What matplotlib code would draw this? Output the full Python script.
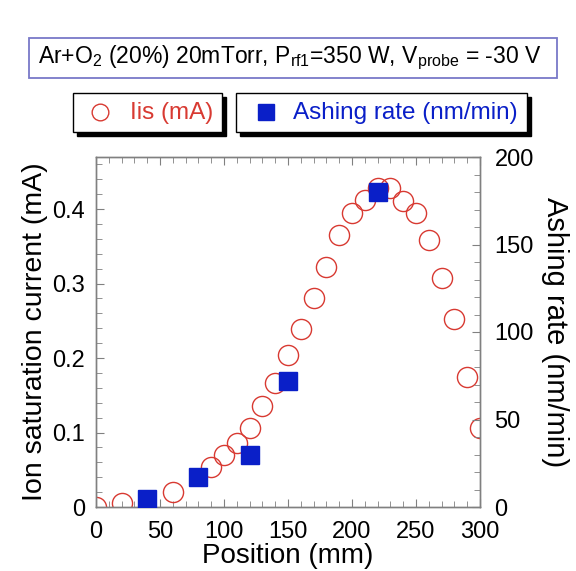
import matplotlib.pyplot as plt
from matplotlib.ticker import MultipleLocator
from matplotlib.lines import Line2D
from matplotlib.patches import Rectangle

plt.rcParams['font.family'] = ['Liberation Sans', 'DejaVu Sans']
plt.rcParams['mathtext.fontset'] = 'custom'
plt.rcParams['mathtext.rm'] = 'Liberation Sans'
plt.rcParams['mathtext.it'] = 'Liberation Sans'

# ion saturation current (mA)
pos_iis = [0, 20, 60, 90, 100, 110, 120, 130, 140, 150, 160, 170, 180, 190,
           200, 210, 220, 230, 240, 250, 260, 270, 280, 290, 300]
iis = [0.0, 0.005, 0.02, 0.054, 0.07, 0.086, 0.106, 0.136, 0.166, 0.204, 0.239,
       0.28, 0.322, 0.365, 0.395, 0.412, 0.429, 0.428, 0.411, 0.395, 0.358,
       0.308, 0.252, 0.174, 0.106]

# ashing rate (nm/min)
pos_ash = [40, 80, 120, 150, 220]
ash = [4.5, 17, 30, 72, 180]

red = '#d83a32'
blue = '#0a1fc8'
W, H = 576, 571


def fx(x):
    return x / W


def fy(y):
    return 1 - y / H


fig = plt.figure(figsize=(5.76, 5.71), dpi=100)
ax = fig.add_axes([fx(96), fy(507), fx(480) - fx(96), fy(157) - fy(507)])
ax2 = ax.twinx()

ax.plot(pos_iis, iis, 'o', mfc='none', mec=red, ms=14.5, mew=1.0, zorder=2)
ax2.plot(pos_ash, ash, 's', color=blue, ms=13.5, zorder=3)

ax.set_xlim(0, 300)
ax.set_ylim(0, 0.47)
ax2.set_ylim(0, 200)
ax.set_xticks([0, 50, 100, 150, 200, 250, 300])
ax.set_yticks([0, 0.1, 0.2, 0.3, 0.4])
ax.set_yticklabels(['0', '0.1', '0.2', '0.3', '0.4'])
ax2.set_yticks([0, 50, 100, 150, 200])
ax.xaxis.set_minor_locator(MultipleLocator(10))
ax.yaxis.set_minor_locator(MultipleLocator(0.02))
ax2.yaxis.set_minor_locator(MultipleLocator(10))

for a in (ax, ax2):
    for s in a.spines.values():
        s.set_color('#808080')
        s.set_linewidth(1.0)
ax.tick_params(which='both', direction='in', top=True, labelsize=17, color='#808080')
ax.tick_params(which='major', length=6)
ax.tick_params(which='minor', length=4)
ax2.tick_params(which='both', direction='in', labelsize=17, color='#808080')
ax2.tick_params(which='major', length=6)
ax2.tick_params(which='minor', length=4)
ax.tick_params(axis='x', pad=10)
ax.tick_params(axis='y', pad=8)
ax2.tick_params(axis='y', pad=10.5)

ax.set_xlabel('Position (mm)', fontsize=20)
ax.xaxis.set_label_coords(0.5, -0.102)
ax.set_ylabel('Ion saturation current (mA)', fontsize=20.5, labelpad=3)
ax2.set_ylabel('Ashing rate (nm/min)', fontsize=21, rotation=270, labelpad=25)

# title box
fig.add_artist(Rectangle((fx(29), fy(78)), fx(557) - fx(29), fy(38) - fy(78),
                         transform=fig.transFigure, fc='white', ec='#7878c8', lw=1.3))
fig.text(fx(38), fy(58),
         'Ar+O$_2$ (20%) 20mTorr, P$_{\\mathrm{rf1}}$=350 W, V$_{\\mathrm{probe}}$ = -30 V',
         fontsize=16.5, ha='left', va='center')

# legend boxes with shadow
boxes = [(73, 222, 100, 130, 'o', red, 'Iis (mA)'),
         (236, 527, 266, 293, 's', blue, 'Ashing rate (nm/min)')]
for x0, x1, mx, tx, mk, col, txt in boxes:
    fig.add_artist(Rectangle((fx(x0 + 4), fy(136)), fx(x1) - fx(x0), fy(93) - fy(132),
                             transform=fig.transFigure, fc='black', ec='black', lw=1))
    fig.add_artist(Rectangle((fx(x0), fy(132)), fx(x1) - fx(x0), fy(93) - fy(132),
                             transform=fig.transFigure, fc='white', ec='black', lw=1))
    if mk == 'o':
        fig.add_artist(Line2D([fx(mx)], [fy(112)], transform=fig.transFigure, ls='none',
                              marker='o', mfc='none', mec=col, ms=12, mew=1.0))
    else:
        fig.add_artist(Line2D([fx(mx)], [fy(112)], transform=fig.transFigure, ls='none',
                              marker='s', color=col, ms=12))
    fig.text(fx(tx), fy(113), txt, fontsize=17.5, color=col, ha='left', va='center')

fig.savefig('out.png', dpi=100)
